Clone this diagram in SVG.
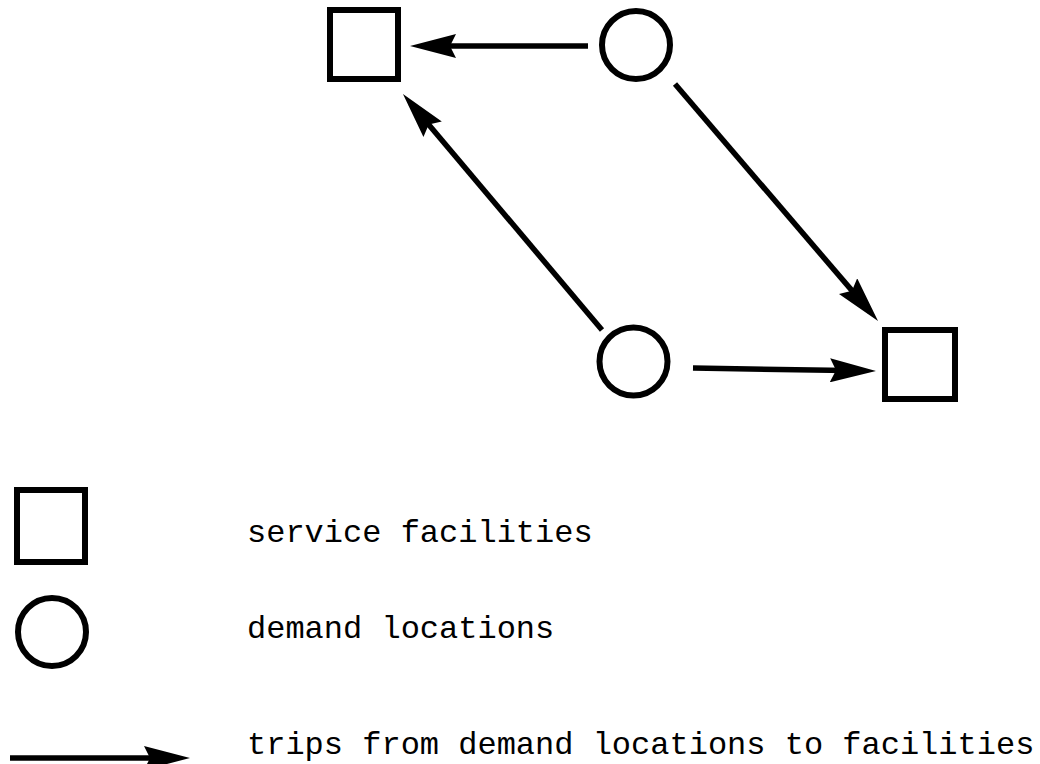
<svg xmlns="http://www.w3.org/2000/svg" width="1040" height="764" viewBox="0 0 1040 764">
  <style>
    .facility { fill: #fff; stroke: #000; stroke-width: 6; }
    .demand { fill: #fff; stroke: #000; stroke-width: 6; }
    .trip { fill: none; stroke: #000; stroke-width: 5.5; marker-end: url(#head); }
    .label { font-family: "Liberation Mono", "Courier New", monospace; font-size: 32px; fill: #000; }
  </style>
  <defs>
    <marker id="head" viewBox="0 0 46 24" refX="34" refY="12" markerWidth="46" markerHeight="24" markerUnits="userSpaceOnUse" orient="auto">
      <path d="M0,0 L46,12 L0,24 L6,12 z" fill="#000"/>
    </marker>
  </defs>

  <rect width="1040" height="764" fill="#fff"/>

  <!-- network: facilities and demand points -->
  <g id="facility-nw"><rect class="facility" x="330" y="10" width="68" height="69"/></g>
  <g id="facility-se"><rect class="facility" x="885" y="330" width="70" height="69"/></g>
  <g id="demand-ne"><circle class="demand" cx="636" cy="45" r="34"/></g>
  <g id="demand-sw"><circle class="demand" cx="633.5" cy="361.5" r="34"/></g>

  <!-- trips -->
  <g id="connectors">
    <path class="trip" d="M588,46 L422,46"/>
    <path class="trip" d="M675,84 L870.2,311.9"/>
    <path class="trip" d="M602,330 L410.7,103.2"/>
    <path class="trip" d="M693,368 L864,370.8"/>
  </g>

  <!-- legend -->
  <g id="legend-facility">
    <rect class="facility" x="17" y="490" width="68" height="72"/>
    <text class="label" x="247" y="542">service facilities</text>
  </g>
  <g id="legend-demand">
    <circle class="demand" cx="52" cy="632" r="34"/>
    <text class="label" x="247" y="638">demand locations</text>
  </g>
  <g id="legend-trip">
    <path class="trip" d="M10,758 L178,758"/>
    <text class="label" x="247" y="754">trips from demand locations to facilities</text>
  </g>
</svg>
